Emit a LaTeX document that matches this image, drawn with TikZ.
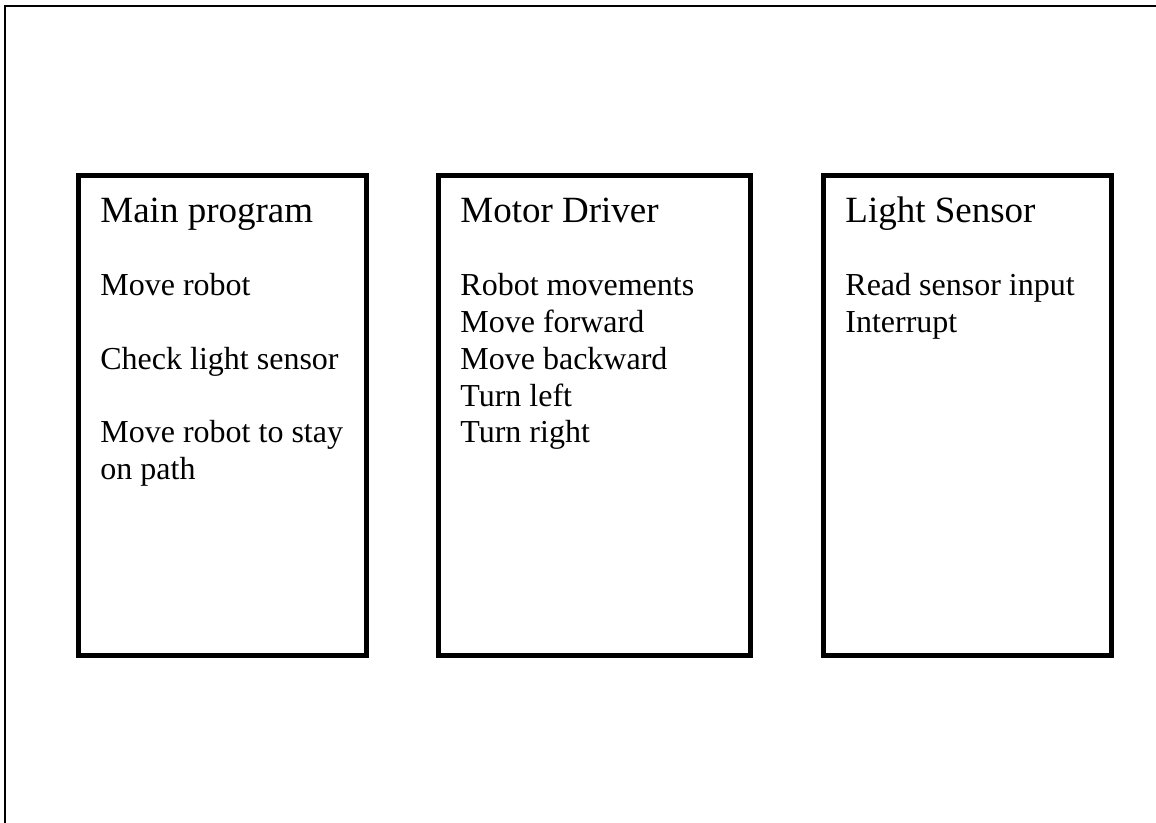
\documentclass[tikz,border=0pt]{standalone}
\usepackage{fontspec}
\setmainfont{Liberation Serif}
\usetikzlibrary{positioning}

\tikzset{
  module/.style={draw, line width=2.5pt, inner sep=0pt, outer sep=0pt,
    minimum height=240pt},
  heading/.style={inner sep=0pt, anchor=base west, font=\fontsize{18.5}{22}\selectfont},
  entry/.style={inner sep=0pt, anchor=base west, font=\fontsize{16}{19}\selectfont}
}

\begin{document}
\begin{tikzpicture}[x=0.5pt,y=-0.5pt]
	\useasboundingbox (0,0) rectangle (1156,823);
	% page frame, only left and top edges show
	\draw[line width=1pt] (5,823) -- (5,6) -- (1156,6);

	% the three modules
	\node[module, minimum width=144pt, anchor=north west] (main) at (78.5,175.5) {};
	\node[module, minimum width=156pt, right=36pt of main] (driver) {};
	\node[module, minimum width=144pt, right=36.5pt of driver] (sensor) {};

	\node[heading] (main-title) at ([shift={(21.5,47)}]main.north west) {Main program};
	\node[heading] (driver-title) at ([shift={(21.5,47)}]driver.north west) {Motor Driver};
	\node[heading] (sensor-title) at ([shift={(21.5,47)}]sensor.north west) {Light Sensor};

	\foreach \txt [count=\i from 0] in {Move robot,,Check light sensor,,Move robot to stay,on path}
		\node[entry] (main-\i) at ([shift={(21.5,{120.5+36.7*\i})}]main.north west) {\txt};
	\foreach \txt [count=\i from 0] in {Robot movements,Move forward,Move backward,Turn left,Turn right}
		\node[entry] (driver-\i) at ([shift={(21.5,{120.5+36.7*\i})}]driver.north west) {\txt};
	\foreach \txt [count=\i from 0] in {Read sensor input,Interrupt}
		\node[entry] (sensor-\i) at ([shift={(21.5,{120.5+36.7*\i})}]sensor.north west) {\txt};
\end{tikzpicture}
\end{document}
